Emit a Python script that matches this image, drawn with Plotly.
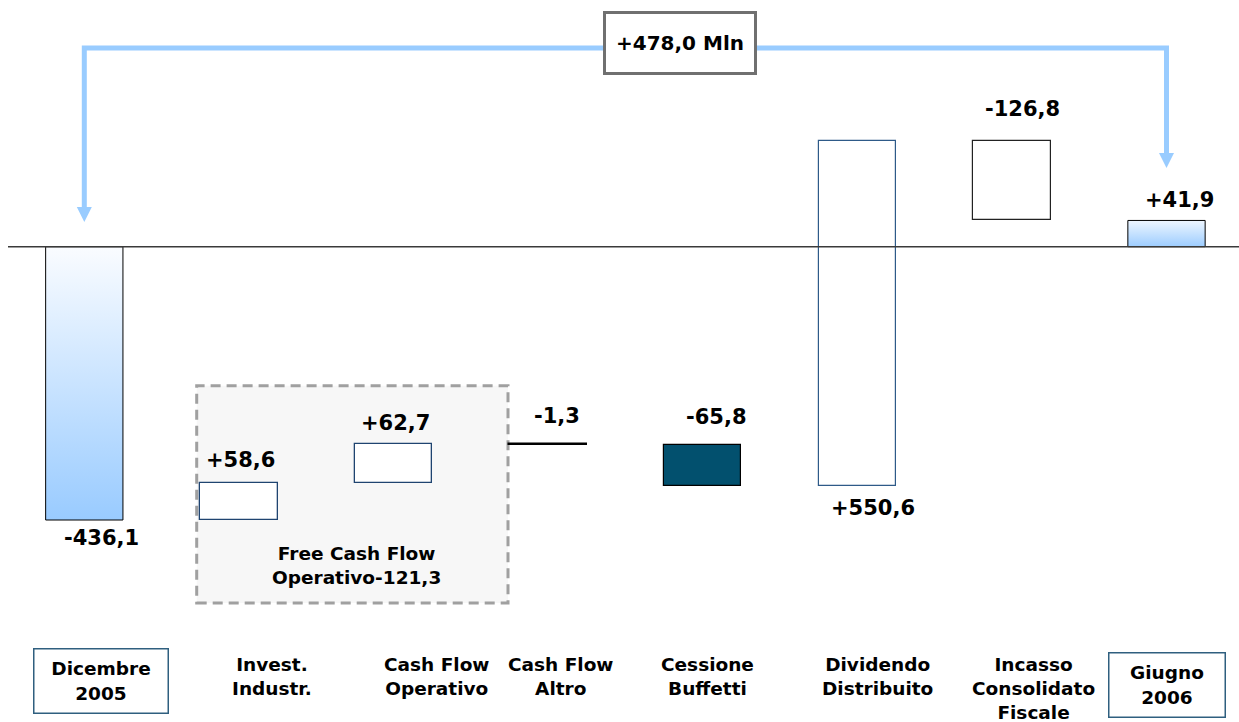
import plotly.graph_objects as go

# ---------------- data ----------------
categories = ["Dicembre<br>2005", "Invest.<br>Industr.", "Cash Flow<br>Operativo",
              "Cash Flow<br>Altro", "Cessione<br>Buffetti", "Dividendo<br>Distribuito",
              "Incasso<br>Consolidato<br>Fiscale", "Giugno<br>2006"]
start_value = -436.1
deltas = [58.6, 62.7, -1.3, -65.8, 550.6, -126.8]
end_value = 41.9
value_labels = ["-436,1", "+58,6", "+62,7", "-1,3", "-65,8", "+550,6", "-126,8", "+41,9"]
total_change_label = "+478,0 Mln"
fcf_label = "Free Cash Flow<br>Operativo-121,3"

# ---------------- styles ----------------
FONT = "DejaVu Sans"
W, H = 1239, 722
X0PX, SX = 84.3, 154.6      # pixel of category 0, pixels per category
Y0PX, SY = 246.7, 0.6267    # pixel of zero, pixels per unit
BAR_W = 0.5

def X(px):
    return (px - X0PX) / SX

def Y(py):
    return (Y0PX - py) / SY

xr = [X(8), X(W)]
yr = [Y(H), Y(0)]

# waterfall levels
spans = [(min(start_value, 0), max(start_value, 0))]
level = start_value
for d in deltas:
    new = level + d
    spans.append((min(level, new), max(level, new)))
    level = new
spans.append((min(0, end_value), max(0, end_value)))

box_fill = ["#FFFFFF", "#FFFFFF", "#FFFFFF", "#02506E", "#FFFFFF", "#FFFFFF"]
box_line = ["#1F4470", "#1F4470", "#000000", "#000000", "#2E5A88", "#222222"]
box_lw = [1.3, 1.3, 1.5, 1.2, 1.2, 1.2]

fig = go.Figure()

# dashed background box (free cash flow group)
fig.add_shape(type="rect", xref="x", yref="y",
              x0=X(196.7), x1=X(508), y0=Y(603), y1=Y(385.7),
              fillcolor="#F7F7F7", line=dict(color="#A0A0A0", width=3, dash="10px,6px"),
              layer="below")

# gradient bars (start / end totals)
grad_specs = {0: ["#99CBFF", "#FAFCFF"], len(categories) - 1: ["#9DCDFF", "#EEF6FF"]}
for i, cols in grad_specs.items():
    lo, hi = spans[i]
    fig.add_trace(go.Scatter(
        x=[i - BAR_W / 2, i + BAR_W / 2, i + BAR_W / 2, i - BAR_W / 2, i - BAR_W / 2],
        y=[lo, lo, hi, hi, lo], mode="lines", fill="toself",
        fillgradient=dict(type="vertical", colorscale=[[0, cols[0]], [1, cols[1]]]),
        line=dict(color="#000000", width=1), hoverinfo="skip", showlegend=False))

# floating boxes
mid_idx = list(range(1, len(categories) - 1))
fig.add_trace(go.Bar(
    x=mid_idx, base=[spans[i][0] for i in mid_idx],
    y=[spans[i][1] - spans[i][0] for i in mid_idx], width=BAR_W,
    marker=dict(color=box_fill, line=dict(color=box_line, width=box_lw)),
    hoverinfo="skip", showlegend=False))

# zero line
fig.add_shape(type="line", xref="paper", yref="y", x0=0, x1=1, y0=0, y1=0,
              line=dict(color="#3A3A3A", width=1.5), layer="above")

# connecting arrow
ARROW = "#99CCFF"
last = len(categories) - 1
y_top = Y(48)
fig.add_shape(type="path", xref="x", yref="y",
              path=f"M {0},{Y(208)} L {0},{y_top} L {last},{y_top} L {last},{Y(154)}",
              line=dict(color=ARROW, width=5), layer="below")
hw = 7.5 / SX
for xc, base_px, tip_px in [(0, 207, 222), (last, 153, 168)]:
    fig.add_shape(type="path", xref="x", yref="y",
                  path=f"M {xc - hw},{Y(base_px)} L {xc + hw},{Y(base_px)} L {xc},{Y(tip_px)} Z",
                  fillcolor=ARROW, line=dict(width=0), layer="below")

annotations = []
# value labels
lab_pos = ["below", "above", "above", "above", "above", "below", "above", "above"]
lab_gap = [17.5, 23, 21, 28, 27.5, 22, 32, 20]
lab_dx = [17, 2, 2, 9, 14, 16, 11, 13]
for i, t in enumerate(value_labels):
    lo, hi = spans[i]
    if lab_pos[i] == "above":
        yv, ys = hi, lab_gap[i]
    else:
        yv, ys = lo, -lab_gap[i]
    annotations.append(dict(x=i, y=yv, xref="x", yref="y", text=f"<b>{t}</b>",
                            showarrow=False, xshift=lab_dx[i], yshift=ys,
                            yanchor="middle", xanchor="center",
                            font=dict(family=FONT, size=21, color="#000000")))

# category labels
cat_dx = [17, 33, 43, 12, 5, 20, 22, 0]
for i, c in enumerate(categories):
    a = dict(x=i, xref="x", yref="y", text=f"<b>{c}</b>", showarrow=False,
             xshift=cat_dx[i], xanchor="center",
             font=dict(family=FONT, size=18.5, color="#000000"))
    if i == 0 or i == last:
        a.update(y=Y(681 if i == 0 else 685), yanchor="middle",
                 width=131 if i == 0 else 113, height=61,
                 bordercolor="#2F5F7F", borderwidth=1.5, borderpad=1, bgcolor="#FFFFFF")
    else:
        a.update(y=Y(652), yanchor="top")
    annotations.append(a)

# total change box
annotations.append(dict(x=X(680), y=Y(43), xref="x", yref="y",
                        text=f"<b>{total_change_label}</b>", showarrow=False,
                        width=144, height=54, borderpad=2, borderwidth=3,
                        bordercolor="#707070", bgcolor="#FFFFFF",
                        font=dict(family=FONT, size=20, color="#000000")))
# free cash flow group text
annotations.append(dict(x=X(356), y=Y(565.5), xref="x", yref="y",
                        text=f"<b>{fcf_label}</b>", showarrow=False, yanchor="middle",
                        font=dict(family=FONT, size=18.5, color="#000000")))

fig.update_layout(
    width=W, height=H, margin=dict(l=8, r=0, t=0, b=0),
    paper_bgcolor="#FFFFFF", plot_bgcolor="#FFFFFF",
    xaxis=dict(range=xr, visible=False, showgrid=False, zeroline=False),
    yaxis=dict(range=yr, visible=False, showgrid=False, zeroline=False),
    annotations=annotations, showlegend=False, bargap=0,
)

fig.write_html("out.html", config={"displayModeBar": False},
               post_script="document.body.style.margin='0';document.body.style.overflow='hidden';")
